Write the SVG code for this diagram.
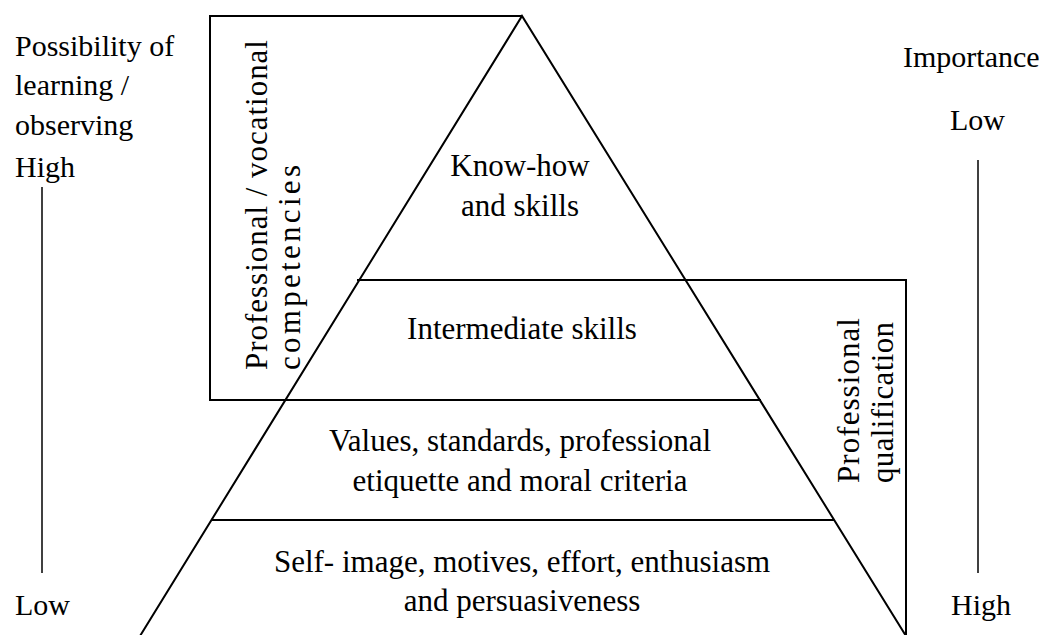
<svg xmlns="http://www.w3.org/2000/svg" width="1050" height="635" viewBox="0 0 1050 635">
  <style>
    .ln { fill: none; stroke: #000; stroke-width: 2; }
    .ax { fill: none; stroke: #000; stroke-width: 1.5; }
    text { font-family: "Liberation Serif", "Times New Roman", serif; font-size: 30px; fill: #000; }
    .lay { font-size: 31px; text-anchor: middle; }
    .rot { font-size: 31px; }
  </style>
  <rect width="1050" height="635" fill="#fff"/>

  <!-- pyramid outline and boxes -->
  <g id="connectors">
    <polyline class="ln" points="140,636 522,16 906,636"/>
    <!-- professional / vocational competencies box -->
    <polyline class="ln" points="522,16 210,16 210,400 761,400"/>
    <!-- professional qualification box -->
    <polyline class="ln" points="357,280 906,280 906,636"/>
    <!-- bottom layer divider -->
    <line class="ln" x1="211" y1="520" x2="834" y2="520"/>
    <!-- axis lines -->
    <line class="ax" x1="42" y1="187" x2="42" y2="573"/>
    <line class="ax" x1="978" y1="160" x2="978" y2="573"/>
  </g>

  <g id="axis-left">
    <text x="15" y="56">Possibility of</text>
    <text x="15" y="95">learning /</text>
    <text x="15" y="135">observing</text>
    <text x="15" y="177">High</text>
    <text x="15" y="615">Low</text>
  </g>

  <g id="axis-right">
    <text x="903" y="67">Importance</text>
    <text x="950" y="130">Low</text>
    <text x="951" y="615">High</text>
  </g>

  <g id="layer-knowhow">
    <text class="lay" x="520" y="176">Know-how</text>
    <text class="lay" x="520" y="216">and skills</text>
  </g>

  <g id="layer-intermediate">
    <text class="lay" x="522" y="339">Intermediate skills</text>
  </g>

  <g id="layer-values">
    <text class="lay" x="520" y="451">Values, standards, professional</text>
    <text class="lay" x="520" y="491">etiquette and moral criteria</text>
  </g>

  <g id="layer-self">
    <text class="lay" x="522" y="572">Self- image, motives, effort, enthusiasm</text>
    <text class="lay" x="522" y="611">and persuasiveness</text>
  </g>

  <g id="box-competencies">
    <text class="rot" transform="translate(267,370) rotate(-90)" textLength="330" lengthAdjust="spacing">Professional / vocational</text>
    <text class="rot" transform="translate(300,370) rotate(-90)" textLength="205" lengthAdjust="spacing">competencies</text>
  </g>

  <g id="box-qualification">
    <text class="rot" transform="translate(859,483) rotate(-90)" textLength="165" lengthAdjust="spacing">Professional</text>
    <text class="rot" transform="translate(893,483) rotate(-90)" textLength="161" lengthAdjust="spacing">qualification</text>
  </g>
</svg>
